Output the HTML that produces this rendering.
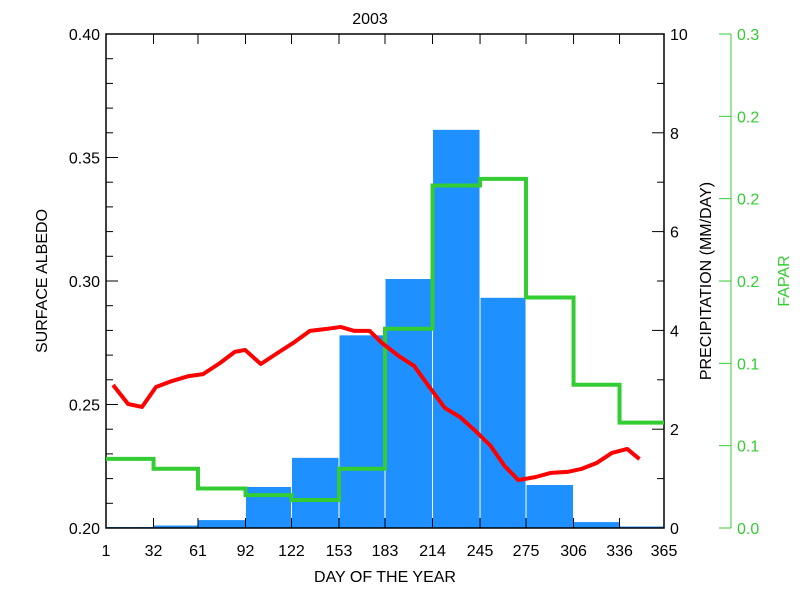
<!DOCTYPE html>
<html><head><meta charset="utf-8"><style>
body{margin:0;background:#fff}
svg text{font-family:"Liberation Sans",sans-serif;font-size:16px}
</style></head><body>
<svg id="c" width="800" height="600" xmlns="http://www.w3.org/2000/svg"></svg>
<script>
const dayTicks=[1,32,61,92,122,153,183,214,245,275,306,336,365];
const precip=[0.02,0.05,0.16,0.83,1.42,3.9,5.04,8.06,4.66,0.87,0.12,0.03];
const fapar=[0.042,0.036,0.024,0.020,0.017,0.036,0.121,0.208,0.212,0.140,0.087,0.064];
const albDays=[5.6,15.4,24.5,33.6,44,55,64.3,75.4,85,91.7,102,113,124,134,145,154,163,173,181,192,202,211,222,232,242,252,261,270,281,291,302,311,321,331,341,349];
const albedo=[0.2579,0.2502,0.2490,0.2571,0.2595,0.2615,0.2623,0.2668,0.2713,0.2721,0.2664,0.2709,0.2753,0.2798,0.2806,0.2814,0.2798,0.2798,0.2749,0.2696,0.2656,0.2579,0.2486,0.2449,0.2393,0.2332,0.2251,0.2194,0.2206,0.2223,0.2227,0.2239,0.2263,0.2304,0.2320,0.2279];
const albTicks=["0.20","0.25","0.30","0.35","0.40"];
const prTicks=["0","2","4","6","8","10"];
const faTicks=["0.0","0.1","0.1","0.2","0.2","0.2","0.3"];

const L=106,R=664,T=34,B=528,GX=731;
const X=d=>L+(d-1)*(R-L)/364;
const YA=v=>B-(v-0.2)/0.2*(B-T);
const YP=v=>B-v/10*(B-T);
const YF=v=>B-v/0.3*(B-T);
const svg=document.getElementById('c');
const NS='http://www.w3.org/2000/svg';
function mk(tag,attrs,name,parent){const e=document.createElementNS(NS,tag);for(const k in attrs)e.setAttribute(k,attrs[k]);


(parent||svg).appendChild(e);return e;}
function txt(x,y,s,name,anchor,fill,extra){const t=mk('text',Object.assign({x:x,y:y,'text-anchor':anchor||'middle',fill:fill||'#000'},extra||{}),name);t.textContent=s;return t;}

// bars
for(let i=0;i<precip.length;i++){
  const x0=X(dayTicks[i]),x1=X(dayTicks[i+1]);
  const b=mk('rect',{x:x0+0.5,y:YP(precip[i]),width:x1-x0-1,height:B-YP(precip[i]),fill:'#1e90ff'},'precip-bar-'+(i+1));
}
// axes box
mk('rect',{x:L,y:T,width:R-L,height:B-T,fill:'none',stroke:'#000','stroke-width':1.5},'plot-frame');
// x ticks
dayTicks.forEach((d,i)=>{
  mk('line',{x1:X(d),x2:X(d),y1:B,y2:B-10,stroke:'#000'},'x-tick');
  mk('line',{x1:X(d),x2:X(d),y1:T,y2:T+10,stroke:'#000'},'x-top-tick');
  txt(X(d),556,String(d),'x-tick-label');
});
// left ticks
for(let i=0;i<=20;i++){const v=0.2+i*0.01;const y=YA(v);const maj=i%5==0;
  mk('line',{x1:L,x2:L+(maj?12:7),y1:y,y2:y,stroke:'#000'},'y-left-tick');}
albTicks.forEach(s=>txt(L-6,YA(+s)+6,s,'y-left-tick-label','end'));
// right precip ticks
for(let i=0;i<=10;i++){const y=YP(i);const maj=i%2==0;
  mk('line',{x1:R,x2:R-(maj?12:7),y1:y,y2:y,stroke:'#000'},'y-right-tick');}
prTicks.forEach(s=>txt(R+6,YP(+s)+6,s,'y-right-tick-label','start'));
// green axis
mk('line',{x1:GX,x2:GX,y1:T,y2:B,stroke:'#33cc33'},'fapar-axis');
faTicks.forEach((s,i)=>{const y=YF(i*0.05);
  mk('line',{x1:GX,x2:GX-12,y1:y,y2:y,stroke:'#33cc33'},'fapar-tick');
  txt(GX+6,y+6,s,'fapar-tick-label','start','#33cc33');});
// fapar step
let d='';
fapar.forEach((v,i)=>{const x0=X(dayTicks[i]),x1=X(dayTicks[i+1]);d+=(i?'L':'M')+x0+' '+YF(v)+'L'+x1+' '+YF(v);});
mk('path',{d:d,fill:'none',stroke:'#33cc33','stroke-width':4},'fapar-line');
// albedo
let a='';albDays.forEach((dd,i)=>{a+=(i?'L':'M')+X(dd)+' '+YA(albedo[i]);});
mk('path',{d:a,fill:'none',stroke:'#ff0000','stroke-width':4,'stroke-linejoin':'round'},'albedo-line');
// titles
txt(370,24,'2003','chart-title','middle','#000',{'font-size':'19'});
txt(385,582,'DAY OF THE YEAR','x-axis-title');
txt(0,0,'SURFACE ALBEDO','y-left-title','middle','#000',{transform:'translate(47,281) rotate(-90)'});
txt(0,0,'PRECIPITATION (MM/DAY)','y-right-title','middle','#000',{transform:'translate(711,281) rotate(-90)'});
txt(0,0,'FAPAR','fapar-title','middle','#33cc33',{transform:'translate(789,281) rotate(-90)'});
</script>
</body></html>
